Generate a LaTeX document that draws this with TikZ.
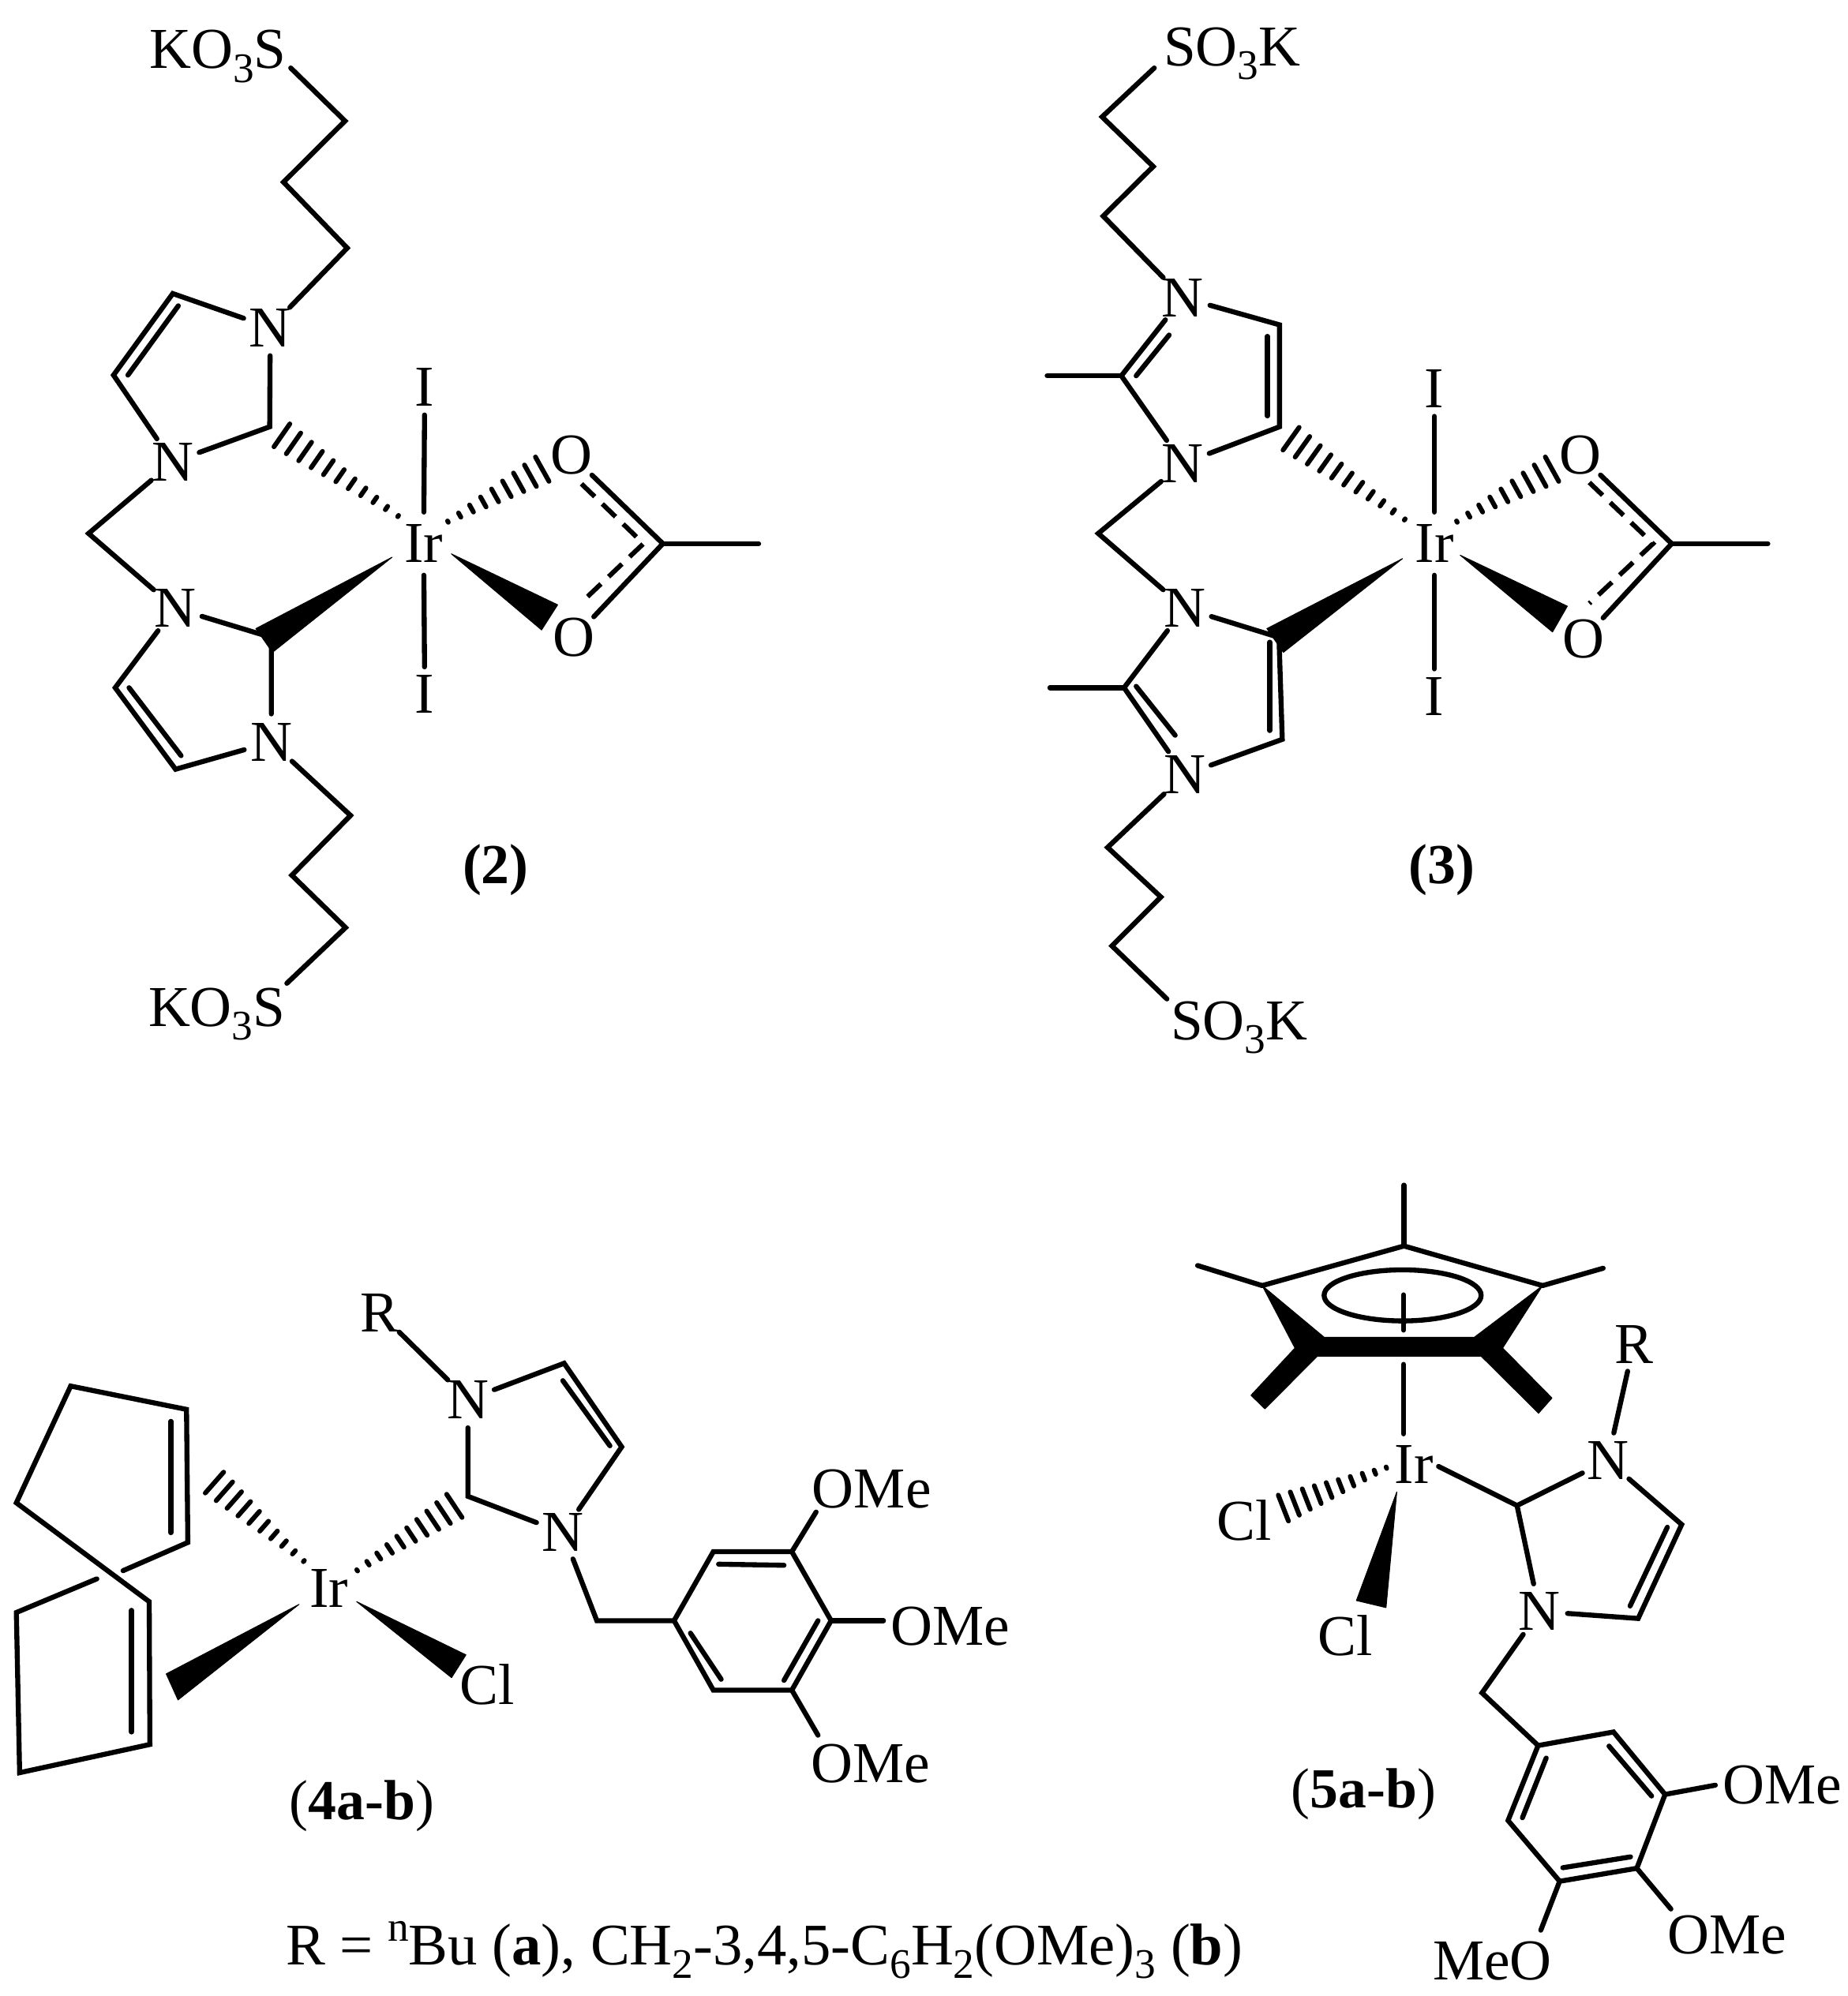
\documentclass[tikz,border=0pt]{standalone}
\usepackage{fontspec}
\setmainfont{Liberation Serif}
\usetikzlibrary{calc}
\newcommand\lowr[1]{\raisebox{-5.2pt}{\fontsize{16}{16}\selectfont #1}}
\newcommand\highr[1]{\raisebox{9pt}{\fontsize{16}{16}\selectfont #1}}
\newcommand\hashb[4]{\foreach \ii in {0,...,#3}{%
  \pgfmathsetmacro\tpos{0.005+0.99*\ii/#3}%
  \pgfmathsetmacro\hw{0.3+#4*\ii/#3}%
  \draw[hatch] ($(#1)!\tpos!(#2)!\hw pt!90:(#2)$) -- ($(#1)!\tpos!(#2)!\hw pt!-90:(#2)$);}}
\tikzset{
  every node/.style={font=\fontsize{22}{24}\selectfont,inner sep=0pt,outer sep=0pt},
  atom/.style={circle,minimum size=21pt},
  metal/.style={circle,minimum size=24pt},
  bond/.style={draw=black,line width=1.9pt,line join=miter,line cap=round},
  dbond/.style={draw=black,line width=1.8pt,dash pattern=on 7pt off 4pt},
  hatch/.style={draw=black,line width=1.8pt,line cap=round},
  wedge/.style={fill=black,draw=black,line width=0.3pt,line join=round},
  clabel/.style={font=\fontsize{21.5}{24}\selectfont}
}
\begin{document}
\begin{tikzpicture}
\useasboundingbox (0pt,0pt) rectangle (702.3pt,-758.7pt);
% ---------- compound 2
\begin{scope}[x=0.21045pt,y=-0.2583pt]
\node[anchor=base west] (aS1) at (270,101) {KO\lowr{3}S};
\node[anchor=base west] (aS2) at (268,1510) {KO\lowr{3}S};
\node[atom] (aN1) at (488,482) {N};
\node[atom] (aN2) at (312,680) {N};
\node[atom] (aN3) at (316,895) {N};
\node[atom] (aN4) at (490,1092) {N};
\node[metal] (aIr) at (765,800) {Ir};
\node[atom] (aI1) at (767,570) {I};
\node[atom] (aI2) at (767,1022) {I};
\node[atom] (aO1) at (1032,670) {O};
\node[atom] (aO2) at (1037,938) {O};
\node[clabel] (aL) at (895,1280) {\textbf{(2)}};
\coordinate (as1) at (525,100); \coordinate (a1) at (623,178); \coordinate (a2) at (512,268); \coordinate (a3) at (627,365);
\coordinate (a4) at (312,432); \coordinate (a5) at (205,552); \coordinate (a6) at (487,628);
\coordinate (a7) at (160,785); \coordinate (a8) at (490,938); \coordinate (a9) at (208,1012); \coordinate (a10) at (317,1132);
\coordinate (a11) at (633,1200); \coordinate (a12) at (527,1288); \coordinate (a13) at (624,1365); \coordinate (as2) at (518,1447);
\coordinate (a4i) at (322,450); \coordinate (a5i) at (231,552); \coordinate (a9i) at (233,1012); \coordinate (a10i) at (327,1112);
\coordinate (aC) at (1197,800); \coordinate (aMe) at (1370,800);
\coordinate (ad1) at (1050,712); \coordinate (ad2) at (1162,800); \coordinate (ad3) at (1048,888);
\coordinate (ah1) at (720,760); \coordinate (ah2) at (508,640); \coordinate (ah3) at (808,768); \coordinate (ah4) at (980,690);
\coordinate (aw1) at (708,820); \coordinate (aw2) at (462,925); \coordinate (aw3) at (492,960);
\coordinate (aw4) at (815,815); \coordinate (aw5) at (1007,890); \coordinate (aw6) at (978,927);
\draw[bond] (as1) -- (a1) -- (a2) -- (a3) -- (aN1);
\draw[bond] (aN1) -- (a4) -- (a5) -- (aN2);
\draw[bond] (a4i) -- (a5i);
\draw[bond] (aN2) -- (a6) -- (aN1);
\draw[bond] (aN2) -- (a7) -- (aN3);
\draw[bond] (aN3) -- (a8) -- (aN4);
\draw[bond] (aN3) -- (a9) -- (a10) -- (aN4);
\draw[bond] (a9i) -- (a10i);
\draw[bond] (aN4) -- (a11) -- (a12) -- (a13) -- (as2);
\draw[bond] (aI1) -- (aIr);
\draw[bond] (aIr) -- (aI2);
\draw[bond] (aO1) -- (aC) -- (aO2);
\draw[bond] (aC) -- (aMe);
\draw[dbond] (ad1) -- (ad2) -- (ad3);
\hashb{ah1}{ah2}{10}{5}
\hashb{ah3}{ah4}{8}{5}
\fill[wedge] (aw1) -- (aw2) -- (aw3) -- cycle;
\fill[wedge] (aw4) -- (aw5) -- (aw6) -- cycle;
\end{scope}
% ---------- compound 3
\begin{scope}[shift={(375pt,0pt)},x=0.20874pt,y=-0.2583pt]
\node[anchor=base west] (bS1) at (322,97) {SO\lowr{3}K};
\node[anchor=base west] (bS2) at (335,1530) {SO\lowr{3}K};
\node[atom] (bN1) at (357,438) {N};
\node[atom] (bN2) at (357,682) {N};
\node[atom] (bN3) at (360,895) {N};
\node[atom] (bN4) at (360,1140) {N};
\node[metal] (bIr) at (815,800) {Ir};
\node[atom] (bI1) at (815,572) {I};
\node[atom] (bI2) at (815,1025) {I};
\node[atom] (bO1) at (1080,670) {O};
\node[atom] (bO2) at (1087,940) {O};
\node[clabel] (bL) at (828,1280) {\textbf{(3)}};
\coordinate (bs1) at (305,100); \coordinate (b1) at (210,172); \coordinate (b2) at (303,245); \coordinate (b3) at (212,318);
\coordinate (b4) at (533,478); \coordinate (b5) at (533,628); \coordinate (b6) at (245,553); \coordinate (b6m) at (110,553);
\coordinate (b4i) at (511,495); \coordinate (b5i) at (511,612); \coordinate (b6i) at (272,553); \coordinate (b7i) at (332,493);
\coordinate (b7) at (203,785); \coordinate (b8) at (532,938); \coordinate (b9) at (538,1088); \coordinate (b10) at (250,1012);
\coordinate (b10m) at (115,1012); \coordinate (b10i) at (272,1010); \coordinate (b11i) at (343,1082);
\coordinate (b8i) at (515,945); \coordinate (b9i) at (515,1075);
\coordinate (b12) at (220,1247); \coordinate (b13) at (317,1320); \coordinate (b14) at (228,1392); \coordinate (bs2) at (328,1470);
\coordinate (bC) at (1247,800); \coordinate (bMe) at (1422,800);
\coordinate (bd1) at (1097,710); \coordinate (bd2) at (1213,800); \coordinate (bd3) at (1097,888);
\coordinate (bh1) at (762,765); \coordinate (bh2) at (553,645); \coordinate (bh3) at (855,768); \coordinate (bh4) at (1030,690);
\coordinate (bw1) at (757,822); \coordinate (bw2) at (510,925); \coordinate (bw3) at (540,960);
\coordinate (bw4) at (862,817); \coordinate (bw5) at (1057,892); \coordinate (bw6) at (1030,930);
\draw[bond] (bs1) -- (b1) -- (b2) -- (b3) -- (bN1);
\draw[bond] (bN1) -- (b4) -- (b5) -- (bN2);
\draw[bond] (b4i) -- (b5i);
\draw[bond] (bN1) -- (b6) -- (bN2);
\draw[bond] (b6i) -- (b7i);
\draw[bond] (b6) -- (b6m);
\draw[bond] (bN2) -- (b7) -- (bN3);
\draw[bond] (bN3) -- (b8) -- (b9) -- (bN4);
\draw[bond] (b8i) -- (b9i);
\draw[bond] (bN3) -- (b10) -- (bN4);
\draw[bond] (b10i) -- (b11i);
\draw[bond] (b10) -- (b10m);
\draw[bond] (bN4) -- (b12) -- (b13) -- (b14) -- (bs2);
\draw[bond] (bI1) -- (bIr);
\draw[bond] (bIr) -- (bI2);
\draw[bond] (bO1) -- (bC) -- (bO2);
\draw[bond] (bC) -- (bMe);
\draw[dbond] (bd1) -- (bd2) -- (bd3);
\hashb{bh1}{bh2}{10}{5}
\hashb{bh3}{bh4}{8}{5}
\fill[wedge] (bw1) -- (bw2) -- (bw3) -- cycle;
\fill[wedge] (bw4) -- (bw5) -- (bw6) -- cycle;
\end{scope}
% ---------- compound 4
\begin{scope}[shift={(0pt,-435pt)},x=0.2487pt,y=-0.2064pt]
\node[metal] (cIr) at (503,818) {Ir};
\node[atom] (cCl) at (745,995) {Cl};
\node[atom] (cR) at (580,310) {R};
\node[atom] (cN1) at (715,470) {N};
\node[atom] (cN2) at (860,715) {N};
\node[atom] (cO1) at (1332,635) {OMe};
\node[atom] (cO2) at (1452,888) {OMe};
\node[atom] (cO3) at (1330,1140) {OMe};
\node[clabel] (cL) at (553,1218) {(\textbf{4a-b})};
\coordinate (c1) at (108,445); \coordinate (c2) at (285,488); \coordinate (c3) at (287,733); \coordinate (c4) at (188,785);
\coordinate (c5) at (25,660); \coordinate (c6) at (228,842); \coordinate (c7) at (229,1105); \coordinate (c8) at (30,1157);
\coordinate (c9) at (25,862); \coordinate (c10) at (148,800);
\coordinate (c2i) at (261,510); \coordinate (c3i) at (261,715); \coordinate (c6i) at (201,858); \coordinate (c7i) at (201,1082);
\coordinate (c11) at (862,403); \coordinate (c12) at (950,557); \coordinate (c13) at (715,648);
\coordinate (c11i) at (860,435); \coordinate (c12i) at (932,555);
\coordinate (c14) at (912,877); \coordinate (c15) at (1030,877); \coordinate (c16) at (1090,750); \coordinate (c17) at (1210,750);
\coordinate (c18) at (1270,877); \coordinate (c19) at (1210,1005); \coordinate (c20) at (1090,1005);
\coordinate (c16i) at (1098,773); \coordinate (c17i) at (1198,775); \coordinate (c18i) at (1250,877); \coordinate (c19i) at (1198,987);
\coordinate (c15i) at (1055,900); \coordinate (c20i) at (1102,985);
\coordinate (co1) at (1247,677); \coordinate (co2) at (1350,877); \coordinate (co3) at (1250,1088);
\coordinate (ch1) at (465,768); \coordinate (ch2) at (327,622); \coordinate (ch3) at (545,785); \coordinate (ch4) at (695,665);
\coordinate (cw1) at (457,847); \coordinate (cw2) at (254,975); \coordinate (cw3) at (272,1023);
\coordinate (cw4) at (545,842); \coordinate (cw5) at (712,940); \coordinate (cw6) at (690,982);
\draw[bond] (c4) -- (c3) -- (c2) -- (c1) -- (c5) -- (c6) -- (c7) -- (c8) -- (c9) -- (c10);
\draw[bond] (c2i) -- (c3i);
\draw[bond] (c6i) -- (c7i);
\draw[bond] (cR) -- (cN1);
\draw[bond] (cN1) -- (c11) -- (c12) -- (cN2);
\draw[bond] (c11i) -- (c12i);
\draw[bond] (cN1) -- (c13) -- (cN2);
\draw[bond] (cN2) -- (c14) -- (c15);
\draw[bond] (c15) -- (c16) -- (c17) -- (c18) -- (c19) -- (c20) -- cycle;
\draw[bond] (c16i) -- (c17i);
\draw[bond] (c18i) -- (c19i);
\draw[bond] (c15i) -- (c20i);
\draw[bond] (c17) -- (co1);
\draw[bond] (c18) -- (co2);
\draw[bond] (c19) -- (co3);
\hashb{ch1}{ch2}{9}{5}
\hashb{ch3}{ch4}{9}{5}
\fill[wedge] (cw1) -- (cw2) -- (cw3) -- cycle;
\fill[wedge] (cw4) -- (cw5) -- (cw6) -- cycle;
\end{scope}
% ---------- compound 5
\begin{scope}[shift={(435pt,-435pt)},x=0.1705pt,y=-0.2064pt]
\node[metal] (dIr) at (600,590) {Ir};
\node[atom] (dCl1) at (222,692) {Cl};
\node[atom] (dCl2) at (448,905) {Cl};
\node[atom] (dR) at (1090,368) {R};
\node[atom] (dN1) at (1032,582) {N};
\node[atom] (dN2) at (880,860) {N};
\node (dO1) at (1421,1180) {OMe};
\node (dO2) at (1298,1455) {OMe};
\node (dO3) at (775,1503) {MeO};
\node[clabel] (dL) at (488,1197) {(\textbf{5a-b})};
\coordinate (d0) at (578,187); \coordinate (d0m) at (578,75);
\coordinate (dl) at (262,260); \coordinate (dlm) at (118,223);
\coordinate (dr) at (887,260); \coordinate (drm) at (1022,228);
\coordinate (df1) at (400,355); \coordinate (df2) at (735,355); \coordinate (df3) at (750,390); \coordinate (df4) at (385,390);
\coordinate (df5) at (335,375); \coordinate (df6) at (798,375);
\coordinate (dm1) at (268,487); \coordinate (dm2) at (237,462); \coordinate (dm3) at (878,495); \coordinate (dm4) at (908,467);
\coordinate (de) at (575,278); \coordinate (dv1) at (577,277); \coordinate (dv2) at (577,342); \coordinate (dv3) at (577,405); \coordinate (dv4) at (577,533);
\coordinate (dh1) at (540,595); \coordinate (dh2) at (308,670);
\coordinate (dw1) at (562,640); \coordinate (dw2) at (472,840); \coordinate (dw3) at (538,853);
\coordinate (d1) at (655,593); \coordinate (d2) at (830,665);
\coordinate (d3) at (1197,700); \coordinate (d4) at (1100,873); \coordinate (d3i) at (1165,705); \coordinate (d4i) at (1082,850);
\coordinate (d5) at (752,1010); \coordinate (d6) at (877,1107); \coordinate (d7) at (1045,1082); \coordinate (d8) at (1160,1197);
\coordinate (d9) at (1097,1333); \coordinate (d10) at (925,1357); \coordinate (d11) at (810,1245);
\coordinate (d6i) at (895,1130); \coordinate (d11i) at (842,1240); \coordinate (d7i) at (1035,1108); \coordinate (d8i) at (1130,1200);
\coordinate (d9i) at (1083,1312); \coordinate (d10i) at (932,1332);
\coordinate (do1) at (1272,1180); \coordinate (do2) at (1173,1408); \coordinate (do3) at (883,1447);
\draw[bond] (dl) -- (d0) -- (dr);
\draw[bond] (d0) -- (d0m);
\draw[bond] (dl) -- (dlm);
\draw[bond] (dr) -- (drm);
\fill[wedge] (dl) -- (df1) -- (df4) -- (df5) -- cycle;
\fill[wedge] (dr) -- (df2) -- (df3) -- (df6) -- cycle;
\fill[wedge] (df1) -- (df2) -- (df3) -- (df4) -- cycle;
\fill[wedge] (df5) -- (df4) -- (dm1) -- (dm2) -- cycle;
\fill[wedge] (df6) -- (df3) -- (dm3) -- (dm4) -- cycle;
\draw[bond] (de) ellipse [x radius=175,y radius=47];
\draw[bond] (dv1) -- (dv2);
\draw[bond] (dv3) -- (dv4);
\hashb{dh1}{dh2}{9}{5}
\fill[wedge] (dw1) -- (dw2) -- (dw3) -- cycle;
\draw[bond] (d1) -- (d2) -- (dN1);
\draw[bond] (d2) -- (dN2);
\draw[bond] (dR) -- (dN1);
\draw[bond] (dN1) -- (d3) -- (d4) -- (dN2);
\draw[bond] (d3i) -- (d4i);
\draw[bond] (dN2) -- (d5) -- (d6);
\draw[bond] (d6) -- (d7) -- (d8) -- (d9) -- (d10) -- (d11) -- cycle;
\draw[bond] (d6i) -- (d11i);
\draw[bond] (d7i) -- (d8i);
\draw[bond] (d9i) -- (d10i);
\draw[bond] (d8) -- (do1);
\draw[bond] (d9) -- (do2);
\draw[bond] (d10) -- (do3);
\end{scope}
\node[anchor=base west,font=\fontsize{22.4}{24}\selectfont] (note) at (108.6pt,-746.7pt) {R = \highr{n}Bu (\textbf{a}), CH\lowr{2}-3,4,5-C\lowr{6}H\lowr{2}(OMe)\lowr{3} (\textbf{b})};
\end{tikzpicture}
\end{document}
